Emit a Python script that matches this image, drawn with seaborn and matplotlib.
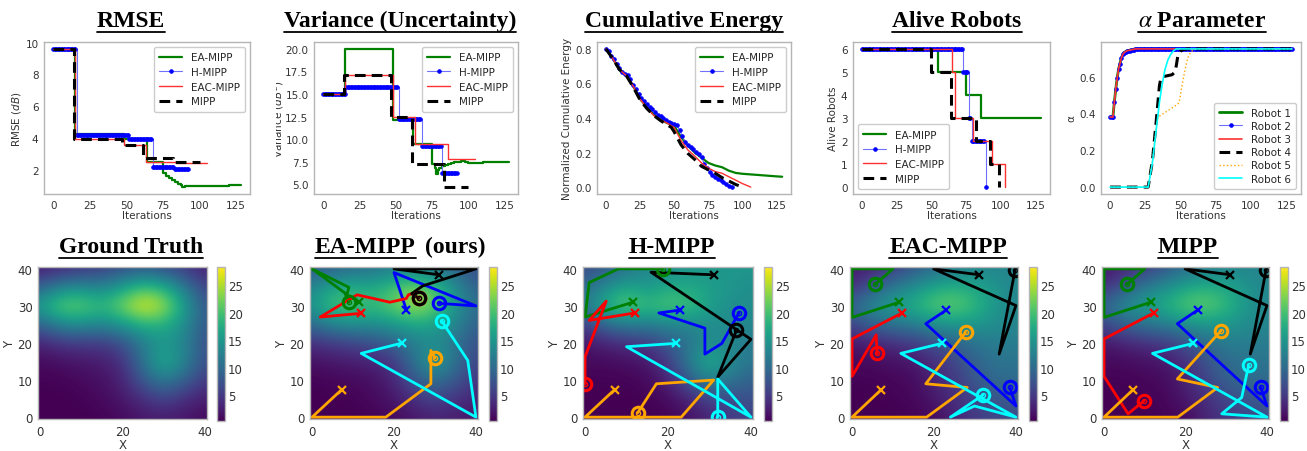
import numpy as np
import matplotlib
matplotlib.use('Agg')
import matplotlib.pyplot as plt
import seaborn as sns
from matplotlib.lines import Line2D
from matplotlib.transforms import Bbox

W, H = 1307, 452

# ---------------- top row data ----------------
# step series stored as (iteration where a level starts, level, last iteration)
RMSE_EA_BREAKS = [0, 15, 48, 64, 75, 77, 79, 81, 83, 85, 87, 88, 90, 100, 112, 120]
RMSE_EA_LEVELS = [9.6, 4.27, 3.95, 2.5, 1.85, 1.65, 1.5, 1.38, 1.27, 1.15, 1.05, 0.95, 1.0, 1.0, 1.02, 1.05]
RMSE_EA_END = 128
RMSE_H_BREAKS = [0, 16, 52, 68, 83]
RMSE_H_LEVELS = [9.6, 4.2, 3.95, 2.2, 2.1]
RMSE_H_END = 92
RMSE_EAC_BREAKS = [0, 15, 48, 63, 84]
RMSE_EAC_LEVELS = [9.6, 3.93, 3.6, 2.55, 2.45]
RMSE_EAC_END = 105
RMSE_MIPP_BREAKS = [0, 14, 47, 61, 82]
RMSE_MIPP_LEVELS = [9.6, 3.93, 3.57, 2.8, 2.5]
RMSE_MIPP_END = 100

VAR_EA_BREAKS = [0, 15, 48, 62, 75, 77, 78, 79, 80, 82, 84, 86, 88, 90, 92, 95, 98, 100, 110, 120, 125]
VAR_EA_LEVELS = [15.0, 20.0, 12.1, 9.45, 7.3, 6.8, 6.2, 6.6, 6.8, 7.0, 7.2, 7.3, 7.4, 7.5, 7.45, 7.6, 7.45, 7.4, 7.45, 7.45, 7.5]
VAR_EA_END = 128
VAR_H_BREAKS = [0, 16, 52, 68, 82]
VAR_H_LEVELS = [15.0, 15.75, 12.2, 9.2, 6.3]
VAR_H_END = 92
VAR_EAC_BREAKS = [0, 15, 48, 63, 86]
VAR_EAC_LEVELS = [15.0, 17.1, 12.5, 9.45, 7.85]
VAR_EAC_END = 105
VAR_MIPP_BREAKS = [0, 14, 47, 61, 83]
VAR_MIPP_LEVELS = [15.0, 17.1, 12.5, 7.3, 4.7]
VAR_MIPP_END = 100

# cumulative energy (smooth curves)
EN_EA_IT = [0, 5, 10, 15, 20, 25, 30, 35, 40, 45, 50, 55, 60, 65, 70, 75, 80, 85, 90, 95, 100, 105, 110, 115, 120, 125, 129]
EN_EA = [0.80, 0.745, 0.68, 0.645, 0.585, 0.51, 0.465, 0.42, 0.39, 0.37, 0.355, 0.29, 0.24, 0.20, 0.17, 0.14,
         0.125, 0.115, 0.095, 0.082, 0.077, 0.074, 0.071, 0.068, 0.065, 0.062, 0.06]
EN_H_IT = list(range(0, 93, 2))
EN_H = [0.80, 0.785, 0.76, 0.74, 0.715, 0.69, 0.665, 0.655, 0.648, 0.625, 0.59, 0.565, 0.54, 0.515, 0.498, 0.482,
        0.466, 0.45, 0.435, 0.42, 0.41, 0.40, 0.388, 0.378, 0.37, 0.364, 0.357, 0.33, 0.295, 0.262, 0.245, 0.23,
        0.218, 0.205, 0.193, 0.172, 0.135, 0.108, 0.085, 0.07, 0.058, 0.048, 0.04, 0.03, 0.02, 0.008, 0.0]
EN_EAC_IT = [0, 5, 10, 15, 20, 25, 30, 35, 40, 45, 50, 55, 60, 65, 70, 75, 80, 85, 90, 95, 100, 106]
EN_EAC = [0.80, 0.745, 0.68, 0.645, 0.585, 0.51, 0.46, 0.415, 0.39, 0.37, 0.345, 0.27, 0.215, 0.18, 0.14, 0.11,
          0.09, 0.08, 0.06, 0.04, 0.02, 0.0]
EN_MIPP_IT = [0, 5, 10, 15, 20, 25, 30, 35, 40, 45, 48, 50, 55, 60, 65, 70, 75, 80, 85, 90, 95, 100]
EN_MIPP = [0.80, 0.745, 0.68, 0.645, 0.58, 0.505, 0.455, 0.415, 0.385, 0.36, 0.345, 0.32, 0.245, 0.195, 0.16,
           0.12, 0.10, 0.08, 0.055, 0.035, 0.015, 0.0]

ALIVE_EA_BREAKS = [0, 55, 75, 86]
ALIVE_EA_LEVELS = [6, 5, 4, 3]
ALIVE_EA_END = 129
ALIVE_H_BREAKS = [0, 73, 77, 79, 89]
ALIVE_H_LEVELS = [6, 5, 3, 2, 0]
ALIVE_H_END = 89
ALIVE_EAC_BREAKS = [0, 65, 67, 80, 94, 103]
ALIVE_EAC_LEVELS = [6, 5, 3, 2, 1, 0]
ALIVE_EAC_END = 103
ALIVE_MIPP_BREAKS = [0, 50, 64, 82, 92, 99]
ALIVE_MIPP_LEVELS = [6, 5, 3, 2, 1, 0]
ALIVE_MIPP_END = 99

# alpha parameter per robot
ALPHA_R1_IT = [0, 2, 3, 4, 5, 6, 7, 8, 9, 10, 12, 15, 18, 129]
ALPHA_R1 = [0.38, 0.38, 0.46, 0.53, 0.59, 0.64, 0.67, 0.70, 0.72, 0.73, 0.74, 0.745, 0.75, 0.75]
ALPHA_R2_BREAKS = [0, 3, 4, 5, 6, 7, 8, 9, 10, 11, 12, 15, 18]
ALPHA_R2_LEVELS = [0.38, 0.46, 0.53, 0.59, 0.64, 0.67, 0.70, 0.72, 0.73, 0.735, 0.74, 0.745, 0.75]
ALPHA_R2_END = 129
ALPHA_R3_IT = [0, 2, 3, 4, 5, 6, 7, 8, 9, 10, 12, 15, 18, 129]
ALPHA_R3 = [0.38, 0.38, 0.46, 0.53, 0.59, 0.64, 0.67, 0.70, 0.72, 0.73, 0.74, 0.745, 0.75, 0.75]
ALPHA_R4_IT = [0, 27, 30, 33, 35, 36, 38, 41, 44, 46, 47, 48, 49, 51, 55, 129]
ALPHA_R4 = [0.0, 0.0, 0.14, 0.38, 0.55, 0.59, 0.60, 0.605, 0.61, 0.625, 0.66, 0.71, 0.73, 0.745, 0.75, 0.75]
ALPHA_R5_IT = [0, 27, 30, 33, 34, 36, 40, 44, 48, 49, 51, 53, 55, 57, 59, 62, 129]
ALPHA_R5 = [0.0, 0.0, 0.14, 0.34, 0.38, 0.39, 0.41, 0.43, 0.45, 0.46, 0.55, 0.63, 0.70, 0.73, 0.745, 0.75, 0.75]
ALPHA_R6_IT = [0, 27, 30, 33, 35, 37, 39, 41, 43, 45, 47, 129]
ALPHA_R6 = [0.0, 0.0, 0.13, 0.33, 0.46, 0.56, 0.64, 0.69, 0.72, 0.74, 0.75, 0.75]

METHODS = ['EA-MIPP', 'H-MIPP', 'EAC-MIPP', 'MIPP']
ROBOTS = ['Robot 1', 'Robot 2', 'Robot 3', 'Robot 4', 'Robot 5', 'Robot 6']

# ---------------- bottom row data ----------------
# fields sampled every 5 units, rows from y=40 (top) to y=0, columns x=0..40
GT_FIELD = [
    [2.5, 3.5, 4.5, 5.5, 7, 8, 7, 5, 3],
    [9, 13, 14, 13, 16, 20, 18, 12, 6],
    [16, 22, 22, 19, 23, 28, 25, 16, 8],
    [9, 13, 14, 13, 15, 18, 18, 14, 8],
    [3, 4.5, 5, 5, 7, 12, 15, 13, 7],
    [1, 1.5, 2, 2.5, 4, 11, 18, 13, 7],
    [0.5, 0.5, 1, 1.5, 3, 8, 12, 9, 5],
    [0.3, 0.3, 0.5, 1, 2, 4, 6, 4, 2.5],
    [0.3, 0.3, 0.3, 0.5, 1, 2, 2.5, 2, 1],
]
EA_FIELD = [
    [8, 9, 10, 11, 12, 12, 11, 9, 7],
    [13, 17, 18, 17, 20, 23, 20, 14, 9],
    [15, 20, 21, 19, 22, 25, 22, 15, 10],
    [10, 13, 14, 14, 15, 17, 16, 13, 9],
    [4, 5, 6, 7, 9, 12, 14, 11, 7],
    [1.5, 2, 2.5, 3, 5, 11, 16, 11, 6],
    [0.5, 0.8, 1, 1.5, 3, 8, 11, 8, 4.5],
    [0.3, 0.3, 0.5, 1, 2, 4, 6, 4.5, 3],
    [0.3, 0.3, 0.3, 0.5, 1, 2, 3, 2.5, 2],
]
H_FIELD = [
    [7, 8, 11, 13, 14, 15, 15, 15, 15],
    [10, 14, 17, 15, 17, 17, 16, 15, 14],
    [12, 18, 22, 19, 21, 20, 16, 14, 14],
    [5, 10, 12, 12, 13, 13, 14, 14, 13],
    [2, 3, 4, 5, 8, 11, 14, 13, 12],
    [1, 1, 1.5, 2, 5, 12, 18, 14, 11],
    [0.5, 0.5, 0.5, 1, 3, 8, 13, 11, 9],
    [0.3, 0.3, 0.3, 0.5, 1, 3, 6, 7, 7],
    [0.3, 0.3, 0.3, 0.3, 0.5, 1.5, 3, 5, 6],
]
EAC_FIELD = [
    [2, 3, 5, 8, 10, 12, 13, 13, 13],
    [4, 8, 12, 14, 17, 18, 17, 15, 13],
    [10, 14, 16, 18, 21, 22, 19, 15, 13],
    [6, 9, 11, 12, 14, 15, 15, 14, 13],
    [2, 3, 4, 5, 7, 9, 11, 12, 12],
    [1, 1, 1.5, 2, 4, 6, 9, 11, 11],
    [0.5, 0.5, 0.8, 1, 3, 5, 8, 10, 10],
    [0.3, 0.3, 0.5, 0.8, 2, 4, 6, 8, 8],
    [0.3, 0.3, 0.3, 0.5, 1, 3, 5, 6, 7],
]
MIPP_FIELD = [
    [2, 3, 5, 8, 10, 12, 13, 13, 13],
    [4, 8, 12, 14, 17, 18, 17, 15, 13],
    [10, 14, 16, 18, 21, 22, 19, 15, 13],
    [6, 9, 11, 12, 14, 15, 15, 14, 13],
    [2, 3, 4, 5, 7, 10, 12, 12, 12],
    [1, 1, 1.5, 2, 4, 7, 10, 11, 11],
    [0.5, 0.5, 0.8, 1, 3, 6, 9, 10, 10],
    [0.3, 0.3, 0.5, 0.8, 2, 4, 6, 8, 8],
    [0.3, 0.3, 0.3, 0.5, 1, 3, 5, 6, 7],
]

# robot paths: first point = start (x marker), last point = end (circle)
EA_PATHS = {
    'green': [(11.5, 31), (8.5, 33), (9, 35), (0, 40), (8, 33.5), (9, 31)],
    'blue': [(23, 29), (20, 39), (40, 30), (31, 30.7)],
    'red': [(12, 28), (2, 27), (11, 33), (19, 31), (23, 32), (23.5, 33), (24.3, 33.3), (26, 32.1)],
    'black': [(31, 38.4), (20, 40), (40, 40), (27, 35.4), (24.3, 33.3), (26, 32.1)],
    'orange': [(7.2, 7.4), (0, 0), (18, 0), (29, 9), (29, 18), (30, 16)],
    'cyan': [(22, 20), (12, 17.2), (40, 0), (38, 15.3), (31.6, 26)],
}
H_PATHS = {
    'green': [(11.5, 31), (0, 27), (1, 36.3), (8, 40), (18.8, 40)],
    'blue': [(23, 28.9), (17.8, 28.1), (28.9, 24), (28.9, 17), (33, 19.9), (37.1, 28.1)],
    'red': [(12, 28.1), (1, 26.1), (5.1, 31.3), (0, 16.3), (0, 9)],
    'black': [(31, 38.4), (15.9, 39.1), (40, 21), (32, 10.8), (36.5, 23.4)],
    'orange': [(7.1, 7.4), (0, 0), (23.2, 0), (31, 10), (17.2, 9), (12.7, 1.2)],
    'cyan': [(21.9, 19.9), (10, 19), (40, 0), (32, 10.3), (32, 0)],
}
EAC_PATHS = {
    'green': [(11.5, 31), (0, 26.9), (0, 40), (10, 40), (5.7, 35.9)],
    'blue': [(23, 28.9), (18, 25.2), (40, 3), (38.5, 8)],
    'red': [(12.2, 28.1), (0, 21.1), (0, 11), (5.9, 22.2), (6.1, 17.2)],
    'black': [(31, 38.4), (19.9, 40), (40, 30.1), (35.9, 17), (39.8, 39.8)],
    'orange': [(7.1, 7.4), (0, 0), (18.2, 0), (28.1, 8), (18, 9), (27.7, 22.9)],
    'cyan': [(21.9, 19.9), (11.9, 17.2), (40, 0), (29.9, 3), (24, 0), (32, 6)],
}
MIPP_PATHS = {
    'green': [(11.5, 31), (0, 26.9), (0, 40), (10, 40), (5.7, 35.9)],
    'blue': [(23, 28.9), (18, 25.2), (40, 3), (38.5, 8)],
    'red': [(12.2, 28.1), (0, 21.1), (0, 11), (5.9, 0.9), (9.8, 4.4)],
    'black': [(31, 38.4), (19.9, 40), (40, 30.1), (35.9, 17), (39.8, 39.8)],
    'orange': [(7.1, 7.4), (0, 0), (18.1, 0), (27.9, 8), (18, 10.3), (28.7, 23.3)],
    'cyan': [(21.9, 19.9), (11.9, 17.2), (40, 0), (28.9, 0.9), (33.8, 5.3), (35.5, 14)],
}

# ---------------- style ----------------
sns.set_style('white')
plt.rcParams['font.family'] = ['DejaVu Sans']
plt.rcParams['axes.edgecolor'] = '#b5b5b5'
plt.rcParams['axes.linewidth'] = 1.0

STYLES = {
    'EA-MIPP': dict(color='green', lw=1.6),
    'H-MIPP': dict(color='#7070ff', lw=0.8, marker='.', ms=5, markerfacecolor='blue', markeredgecolor='blue'),
    'EAC-MIPP': dict(color='#ff3030', lw=1.0),
    'MIPP': dict(color='black', lw=2.2, ls=(0, (3.5, 2))),
}
ROBOT_STYLES = {
    'Robot 1': dict(color='green', lw=2.0),
    'Robot 2': dict(color='#7070ff', lw=0.8, marker='.', ms=5, markerfacecolor='blue', markeredgecolor='blue'),
    'Robot 3': dict(color='#ff3030', lw=1.2),
    'Robot 4': dict(color='black', lw=2.2, ls=(0, (3.5, 2))),
    'Robot 5': dict(color='orange', lw=1.0, ls=':'),
    'Robot 6': dict(color='cyan', lw=1.2),
}
TXT = '#333333'
FS = 7.5


def expand(breaks, levels, end):
    it = np.arange(end + 1)
    idx = np.searchsorted(breaks, it, side='right') - 1
    return it, np.asarray(levels, dtype=float)[idx]


def px_axes(l, t, r, b):
    return fig.add_axes([l / W, 1 - b / H, (r - l) / W, (b - t) / H])


def style_axes(ax, fs=FS):
    ax.tick_params(axis='both', labelsize=fs, colors=TXT, length=2.5, width=0.8, pad=1.5)
    for lab in ax.get_xticklabels() + ax.get_yticklabels():
        lab.set_color(TXT)
    ax.tick_params(axis='both', color='#888888')
    ax.xaxis.label.set_color(TXT)
    ax.yaxis.label.set_color(TXT)
    ax.xaxis.label.set_size(fs)
    ax.yaxis.label.set_size(fs)


def draw_series(ax, x, y, name, style, steps):
    kw = dict(style)
    if steps:
        kw['drawstyle'] = 'steps-post'
    sns.lineplot(x=np.asarray(x), y=np.asarray(y), ax=ax, label=name, sort=False,
                 estimator=None, **kw)


def add_legend(ax, loc):
    ax.legend(loc=loc, fontsize=FS, frameon=True, edgecolor='#cccccc', borderpad=0.5,
              labelspacing=0.45, handlelength=2.2, handletextpad=0.8, framealpha=1.0)


fig = plt.figure(figsize=(W / 100, H / 100), dpi=100)

TOP_T, TOP_B = 43, 195
ITER_TICKS = [0, 25, 50, 75, 100, 125]

# RMSE
ax1 = px_axes(44, TOP_T, 250, TOP_B)
for name, br, lv, end in [('EA-MIPP', RMSE_EA_BREAKS, RMSE_EA_LEVELS, RMSE_EA_END),
                          ('H-MIPP', RMSE_H_BREAKS, RMSE_H_LEVELS, RMSE_H_END),
                          ('EAC-MIPP', RMSE_EAC_BREAKS, RMSE_EAC_LEVELS, RMSE_EAC_END),
                          ('MIPP', RMSE_MIPP_BREAKS, RMSE_MIPP_LEVELS, RMSE_MIPP_END)]:
    x, y = expand(br, lv, end)
    draw_series(ax1, x, y, name, STYLES[name], True)
ax1.set_xticks(ITER_TICKS)
ax1.set_yticks([2, 4, 6, 8, 10])
ax1.set_xlabel('Iterations', labelpad=0)
ax1.set_ylabel('RMSE ($dB$)', labelpad=2)
add_legend(ax1, 'upper right')
style_axes(ax1)

# Variance
ax2 = px_axes(314, TOP_T, 518, TOP_B)
for name, br, lv, end in [('EA-MIPP', VAR_EA_BREAKS, VAR_EA_LEVELS, VAR_EA_END),
                          ('H-MIPP', VAR_H_BREAKS, VAR_H_LEVELS, VAR_H_END),
                          ('EAC-MIPP', VAR_EAC_BREAKS, VAR_EAC_LEVELS, VAR_EAC_END),
                          ('MIPP', VAR_MIPP_BREAKS, VAR_MIPP_LEVELS, VAR_MIPP_END)]:
    x, y = expand(br, lv, end)
    draw_series(ax2, x, y, name, STYLES[name], True)
ax2.set_xticks(ITER_TICKS)
ax2.set_yticks([5.0, 7.5, 10.0, 12.5, 15.0, 17.5, 20.0])
ax2.set_yticklabels(['5.0', '7.5', '10.0', '12.5', '15.0', '17.5', '20.0'])
ax2.set_xlabel('Iterations', labelpad=0)
ax2.set_ylabel('Variance ($dB^2$)')
ax2.yaxis.set_label_coords((286 - 314) / 204, 0.5)
add_legend(ax2, 'upper right')
style_axes(ax2)

# Cumulative energy
ax3 = px_axes(597, TOP_T, 791, TOP_B)
for name, it, val in [('EA-MIPP', EN_EA_IT, EN_EA), ('H-MIPP', EN_H_IT, EN_H),
                      ('EAC-MIPP', EN_EAC_IT, EN_EAC), ('MIPP', EN_MIPP_IT, EN_MIPP)]:
    draw_series(ax3, it, val, name, STYLES[name], False)
ax3.set_xticks(ITER_TICKS)
ax3.set_yticks([0.0, 0.2, 0.4, 0.6, 0.8])
ax3.set_xlabel('Iterations', labelpad=0)
ax3.set_ylabel('Normalized Cumulative Energy', labelpad=2)
add_legend(ax3, 'upper right')
style_axes(ax3)

# Alive robots
ax4 = px_axes(853, TOP_T, 1050, TOP_B)
for name, br, lv, end in [('EA-MIPP', ALIVE_EA_BREAKS, ALIVE_EA_LEVELS, ALIVE_EA_END),
                          ('H-MIPP', ALIVE_H_BREAKS, ALIVE_H_LEVELS, ALIVE_H_END),
                          ('EAC-MIPP', ALIVE_EAC_BREAKS, ALIVE_EAC_LEVELS, ALIVE_EAC_END),
                          ('MIPP', ALIVE_MIPP_BREAKS, ALIVE_MIPP_LEVELS, ALIVE_MIPP_END)]:
    x, y = expand(br, lv, end)
    draw_series(ax4, x, y, name, STYLES[name], True)
ax4.set_xticks(ITER_TICKS)
ax4.set_yticks([0, 1, 2, 3, 4, 5, 6])
ax4.set_xlabel('Iterations', labelpad=0)
ax4.set_ylabel('Alive Robots', labelpad=2)
add_legend(ax4, 'lower left')
style_axes(ax4)

# Alpha parameter
ax5 = px_axes(1101, TOP_T, 1301, TOP_B)
r2x, r2y = expand(ALPHA_R2_BREAKS, ALPHA_R2_LEVELS, ALPHA_R2_END)
for name, it, val in [('Robot 1', ALPHA_R1_IT, ALPHA_R1), ('Robot 2', r2x, r2y),
                      ('Robot 3', ALPHA_R3_IT, ALPHA_R3), ('Robot 4', ALPHA_R4_IT, ALPHA_R4),
                      ('Robot 5', ALPHA_R5_IT, ALPHA_R5), ('Robot 6', ALPHA_R6_IT, ALPHA_R6)]:
    draw_series(ax5, it, val, name, ROBOT_STYLES[name], False)
ax5.set_xticks(ITER_TICKS)
ax5.set_yticks([0.0, 0.2, 0.4, 0.6])
ax5.set_xlabel('Iterations', labelpad=0)
ax5.set_ylabel('α', labelpad=2)
ax5.legend(loc='lower right', fontsize=FS, frameon=True, edgecolor='#cccccc', borderpad=0.5,
           labelspacing=0.3, handlelength=2.2, handletextpad=0.8, framealpha=1.0)
style_axes(ax5)

# ---------------- bottom row ----------------
BOT_T, BOT_B = 268, 420
heat_boxes = [(38, 207, 217), (310, 478, 489), (583, 753, 764), (850, 1018, 1029), (1102, 1269, 1280)]
fields = [GT_FIELD, EA_FIELD, H_FIELD, EAC_FIELD, MIPP_FIELD]
paths = [None, EA_PATHS, H_PATHS, EAC_PATHS, MIPP_PATHS]
ORDER = ['green', 'blue', 'red', 'black', 'orange', 'cyan']

for (l, r, cl), field, pth in zip(heat_boxes, fields, paths):
    ax = px_axes(l, BOT_T, r, BOT_B)
    im = ax.imshow(np.asarray(field), cmap='viridis', vmin=0.3, vmax=28.3, origin='upper',
                   extent=(-2.5, 42.5, -2.5, 42.5), interpolation='bicubic', aspect='auto')
    ax.set_xlim(-0.5, 40.5)
    ax.set_ylim(-0.5, 40.5)
    if pth is not None:
        for c in ORDER:
            pts = np.asarray(pth[c])
            sns.lineplot(x=pts[:, 0], y=pts[:, 1], ax=ax, color=c, lw=2.0, sort=False,
                         estimator=None)
            ax.plot(pts[0, 0], pts[0, 1], marker='x', color=c, ms=6, mew=1.6)
        for c in ORDER:
            pts = np.asarray(pth[c])
            ax.plot(pts[-1, 0], pts[-1, 1], marker='o', ms=9, mfc='none', mec=c, mew=2.2)
            ax.plot(pts[-1, 0], pts[-1, 1], marker='o', ms=3, mfc='none', mec=c, mew=1.0)
    ax.set_xticks([0, 20, 40])
    ax.set_yticks([0, 10, 20, 30, 40])
    ax.set_xlabel('X', labelpad=0)
    ax.set_ylabel('Y', labelpad=1)
    style_axes(ax, fs=8.5)
    cax = px_axes(cl, BOT_T, cl + 8, BOT_B + 2)
    cb = fig.colorbar(im, cax=cax, ticks=[5, 10, 15, 20, 25])
    cb.outline.set_edgecolor('#b5b5b5')
    cax.tick_params(labelsize=8.5, colors=TXT, length=0, pad=2)

# ---------------- titles with underline ----------------
TITLE_KW = dict(family='Liberation Serif', weight='bold', size=17, color='black',
                va='baseline', ha='center', math_fontfamily='stix')
top_titles = [('RMSE', 131), ('Variance (Uncertainty)', 400), ('Cumulative Energy', 684),
              ('Alive Robots', 957), (r'$\alpha$ Parameter', 1202)]
bot_titles = [('Ground Truth', 131), ('H-MIPP', 672), ('EAC-MIPP', 948), ('MIPP', 1188)]

underlined = []
for s, xc in top_titles:
    underlined.append(fig.text(xc / W, 1 - 27 / H, s, **TITLE_KW))
for s, xc in bot_titles:
    underlined.append(fig.text(xc / W, 1 - 253 / H, s, **TITLE_KW))
kw_left = dict(TITLE_KW)
kw_left['ha'] = 'left'
underlined.append(fig.text(315 / W, 1 - 253 / H, 'EA-MIPP', **kw_left))
fig.text(425 / W, 1 - 253 / H, '(ours)', **kw_left)

fig.canvas.draw()
rend = fig.canvas.get_renderer()
inv = fig.transFigure.inverted()
for t in underlined:
    bb = t.get_window_extent(renderer=rend)
    yy = bb.y0 - 1.0
    (x0, y0), (x1, _) = inv.transform([(bb.x0, yy), (bb.x1, yy)])
    fig.add_artist(Line2D([x0, x1], [y0, y0], transform=fig.transFigure, color='black', lw=1.3))

# the variance label is cut off on its left side in the reference
lab = ax2.yaxis.label
lab.set_clip_box(Bbox([[276, 0], [W, H]]))
lab.set_clip_on(True)

fig.savefig('out.png', dpi=100)
